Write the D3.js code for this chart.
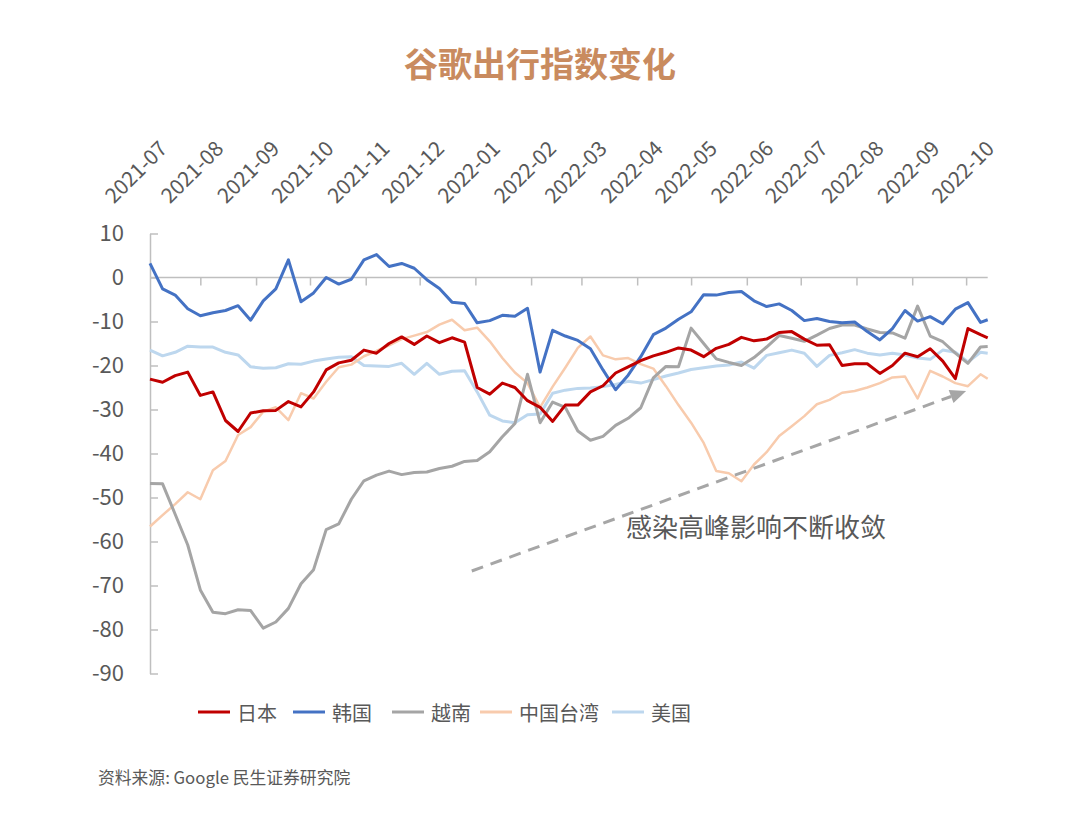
<!DOCTYPE html>
<html><head><meta charset="utf-8">
<script src="https://cdn.jsdelivr.net/npm/d3@7"></script>
<style>
html,body{margin:0;padding:0;background:#fff;}
svg{display:block;font-family:"Noto Sans CJK SC","Noto Sans",sans-serif;}
</style></head>
<body><svg id="chart" width="1080" height="833"></svg>
<script>
const title = "谷歌出行指数变化";
const source = "资料来源: Google 民生证券研究院";
const annotation = "感染高峰影响不断收敛";
const monthLabels = ["2021-07","2021-08","2021-09","2021-10","2021-11","2021-12","2022-01","2022-02","2022-03","2022-04","2022-05","2022-06","2022-07","2022-08","2022-09","2022-10"];
const yTicks = [10,0,-10,-20,-30,-40,-50,-60,-70,-80,-90];
const dates = ["2021-07-04","2021-07-11","2021-07-18","2021-07-25","2021-08-01","2021-08-08","2021-08-15","2021-08-22","2021-08-29","2021-09-05","2021-09-12","2021-09-19","2021-09-26","2021-10-03","2021-10-10","2021-10-17","2021-10-24","2021-10-31","2021-11-07","2021-11-14","2021-11-21","2021-11-28","2021-12-05","2021-12-12","2021-12-19","2021-12-26","2022-01-02","2022-01-09","2022-01-16","2022-01-23","2022-01-30","2022-02-06","2022-02-13","2022-02-20","2022-02-27","2022-03-06","2022-03-13","2022-03-20","2022-03-27","2022-04-03","2022-04-10","2022-04-17","2022-04-24","2022-05-01","2022-05-08","2022-05-15","2022-05-22","2022-05-29","2022-06-05","2022-06-12","2022-06-19","2022-06-26","2022-07-03","2022-07-10","2022-07-17","2022-07-24","2022-07-31","2022-08-07","2022-08-14","2022-08-21","2022-08-28","2022-09-04","2022-09-11","2022-09-18","2022-09-25","2022-10-02","2022-10-09","2022-10-13"];
const japan = [-23.1,-23.8,-22.3,-21.5,-26.8,-26,-32.5,-35,-30.8,-30.3,-30.2,-28.2,-29.4,-26,-21,-19.4,-18.8,-16.5,-17.2,-15,-13.5,-15.2,-13.3,-14.8,-13.7,-14.7,-25,-26.5,-24,-25,-28,-29.5,-32.7,-29,-29,-26,-24.6,-21.7,-20.3,-18.9,-17.8,-17,-16,-16.5,-18,-16.1,-15.2,-13.6,-14.4,-14,-12.5,-12.3,-14,-15.4,-15.3,-20,-19.6,-19.6,-21.8,-20,-17.2,-18,-16.2,-19,-23,-11.6,-13,-13.7];
const korea = [3.2,-2.6,-4,-7.1,-8.7,-8,-7.5,-6.4,-9.7,-5.3,-2.6,4.0,-5.5,-3.5,0,-1.5,-0.4,4,5.2,2.5,3.2,2.1,-0.5,-2.5,-5.6,-5.9,-10.3,-9.8,-8.6,-8.8,-7,-21.5,-12,-13.3,-14.3,-16.2,-21,-25.5,-22.2,-18,-13,-11.5,-9.5,-7.8,-3.9,-4,-3.4,-3.2,-5.3,-6.6,-6,-7.5,-9.8,-9.3,-10,-10.3,-10.1,-12.3,-14.2,-11.6,-7.5,-9.9,-8.9,-10.5,-7.2,-5.7,-10.2,-9.6];
const vietnam = [-46.8,-46.9,-53.8,-60.8,-71,-76.1,-76.4,-75.5,-75.7,-79.7,-78.3,-75.2,-69.6,-66.4,-57.3,-56,-50.4,-46.2,-44.9,-44,-44.8,-44.3,-44.2,-43.4,-42.9,-41.8,-41.6,-39.6,-36.2,-33.2,-22,-33,-28.3,-29.5,-34.9,-37,-36.1,-33.6,-32,-29.6,-22.8,-20.2,-20.3,-11.5,-15,-18.5,-19.3,-20,-18.2,-15.8,-13.2,-13.8,-14.5,-13.1,-11.6,-10.8,-10.8,-11.7,-12.5,-12.6,-13.8,-6.5,-13.3,-14.6,-17.2,-19.5,-15.8,-15.7];
const taiwan = [-56.6,-54,-51.5,-48.8,-50.4,-43.8,-41.7,-35.8,-34,-30.5,-29.5,-32.4,-26.3,-27.5,-23.7,-20.4,-19.8,-17.9,-16.7,-15.4,-14,-13.2,-12.4,-10.7,-9.6,-12,-11.4,-14.5,-18.3,-21.6,-24,-29.5,-24.8,-20.5,-16,-13.4,-17.7,-18.6,-18.3,-19.7,-20.7,-24.7,-29,-33,-37.6,-44,-44.5,-46.3,-42.5,-39.7,-36,-33.8,-31.5,-28.8,-27.8,-26.2,-25.8,-25,-24,-22.7,-22.5,-27.5,-21.2,-22.5,-24,-24.7,-22,-23];
const usa = [-16.5,-17.8,-17,-15.6,-15.8,-15.8,-17,-17.6,-20.3,-20.6,-20.5,-19.6,-19.7,-19,-18.5,-18.1,-18,-20,-20.1,-20.2,-19.5,-22,-19.5,-22,-21.3,-21.2,-26,-31.3,-32.6,-33,-31.2,-31,-26.3,-25.6,-25.2,-25.1,-24.8,-24.3,-23.6,-24,-23.2,-22.4,-21.7,-20.9,-20.5,-20.1,-19.9,-19.2,-20.6,-17.7,-17.1,-16.5,-17.2,-20.2,-17.7,-17.1,-16.4,-17.2,-17.6,-17.2,-17.6,-18.3,-18.6,-16.5,-17,-19.2,-17,-17.2];
const seriesNames = ["日本","韩国","越南","中国台湾","美国"];
const seriesColors = ["#c00000","#4472c4","#a5a5a5","#f8cbad","#bdd7ee"];
const arrowFrom = {date:"2021-12-30", value:-66.7};
const arrowTo = {date:"2022-10-01", value:-25.8};

const parse = d3.timeParse("%Y-%m-%d");
const D = dates.map(parse);
const values = [japan, korea, vietnam, taiwan, usa];

const svg = d3.select("#chart");
const grey = "#595959";
const axisCol = "#bfbfbf";
const fam = '"Noto Sans CJK SC","Noto Sans",sans-serif';

const x = d3.scaleTime().domain([D[0], D[D.length-1]]).range([150, 987.7]);
const y = d3.scaleLinear().domain([-90, 10]).range([673.5, 233.5]);

// title
svg.append("text").attr("x", 540).attr("y", 62).attr("text-anchor","middle")
  .attr("dominant-baseline","central").attr("font-size", 34).attr("font-weight", 700)
  .attr("fill", "#c98b5f").text(title);

// y axis
const yAxis = d3.axisLeft(y).tickValues(yTicks).tickSizeInner(-8).tickSizeOuter(0)
  .tickPadding(26).tickFormat(d => String(d));
const gy = svg.append("g").attr("transform","translate(150,0)").call(yAxis);
gy.select(".domain").attr("stroke", axisCol).attr("stroke-width", 1.5);
gy.selectAll(".tick line").attr("stroke", axisCol).attr("stroke-width", 1.5);
gy.selectAll(".tick text").attr("fill", grey).attr("font-size", 22).attr("font-family", fam);

// x axis at zero
const months = monthLabels.map(m => parse(m + "-01"));
const inRange = months.filter(m => m >= D[0] && m <= D[D.length-1]);
const xAxis = d3.axisBottom(x).tickValues(inRange).tickSize(8).tickFormat("");
const gx = svg.append("g").attr("transform", `translate(0,${y(0)})`).call(xAxis);
gx.select(".domain").remove();
gx.selectAll(".tick line").attr("stroke", axisCol).attr("stroke-width", 1.5);
gx.append("line").attr("x1", x(D[0])).attr("x2", x(D[D.length-1]))
  .attr("stroke", axisCol).attr("stroke-width", 1.5);

// month labels at top
svg.append("g").selectAll("text").data(monthLabels).join("text")
  .attr("transform", (d,i) => `translate(${x(months[i]) + 24 + i*0.35},150) rotate(-45)`)
  .attr("text-anchor","end").attr("font-size", 21).attr("fill", grey).text(d => d);

// lines
const line = d3.line().x((d,i) => x(D[i])).y(d => y(d));
const drawOrder = [4,3,2,1,0];
const widths = [3,3,3,2.5,3];
svg.append("g").selectAll("path").data(drawOrder).join("path")
  .attr("d", k => line(values[k])).attr("fill","none")
  .attr("stroke", k => seriesColors[k]).attr("stroke-width", k => widths[k])
  .attr("stroke-linejoin","round");

// annotation arrow
const ax1 = x(parse(arrowFrom.date)), ay1 = y(arrowFrom.value);
const ax2 = x(parse(arrowTo.date)), ay2 = y(arrowTo.value);
const ang = Math.atan2(ay2-ay1, ax2-ax1);
const headLen = 16;
svg.append("line").attr("x1", ax1).attr("y1", ay1)
  .attr("x2", ax2 - headLen*Math.cos(ang)).attr("y2", ay2 - headLen*Math.sin(ang))
  .attr("stroke","#a6a6a6").attr("stroke-width",3).attr("stroke-dasharray","12,8");
const hw = 7;
const bx = ax2 - headLen*Math.cos(ang), by = ay2 - headLen*Math.sin(ang);
svg.append("path").attr("d", `M${ax2},${ay2}L${bx - hw*Math.sin(ang)},${by + hw*Math.cos(ang)}L${bx + hw*Math.sin(ang)},${by - hw*Math.cos(ang)}Z`)
  .attr("fill","#a6a6a6");
svg.append("text").attr("x", 756).attr("y", 525).attr("text-anchor","middle")
  .attr("dominant-baseline","central").attr("font-size", 26).attr("fill", grey).text(annotation);

// legend
const legendX = [198, 293, 392, 480, 612];
const lg = svg.append("g").attr("transform","translate(0,712)");
seriesNames.forEach((n,i) => {
  lg.append("line").attr("x1", legendX[i]).attr("x2", legendX[i]+32).attr("y1",0).attr("y2",0)
    .attr("stroke", seriesColors[i]).attr("stroke-width", 3);
  lg.append("text").attr("x", legendX[i]+39).attr("y",0).attr("dominant-baseline","central")
    .attr("font-size", 20).attr("fill", grey).text(n);
});

// source
svg.append("text").attr("x", 98).attr("y", 777).attr("dominant-baseline","central")
  .attr("font-size", 16.8).attr("fill", grey).text(source);
</script></body></html>
